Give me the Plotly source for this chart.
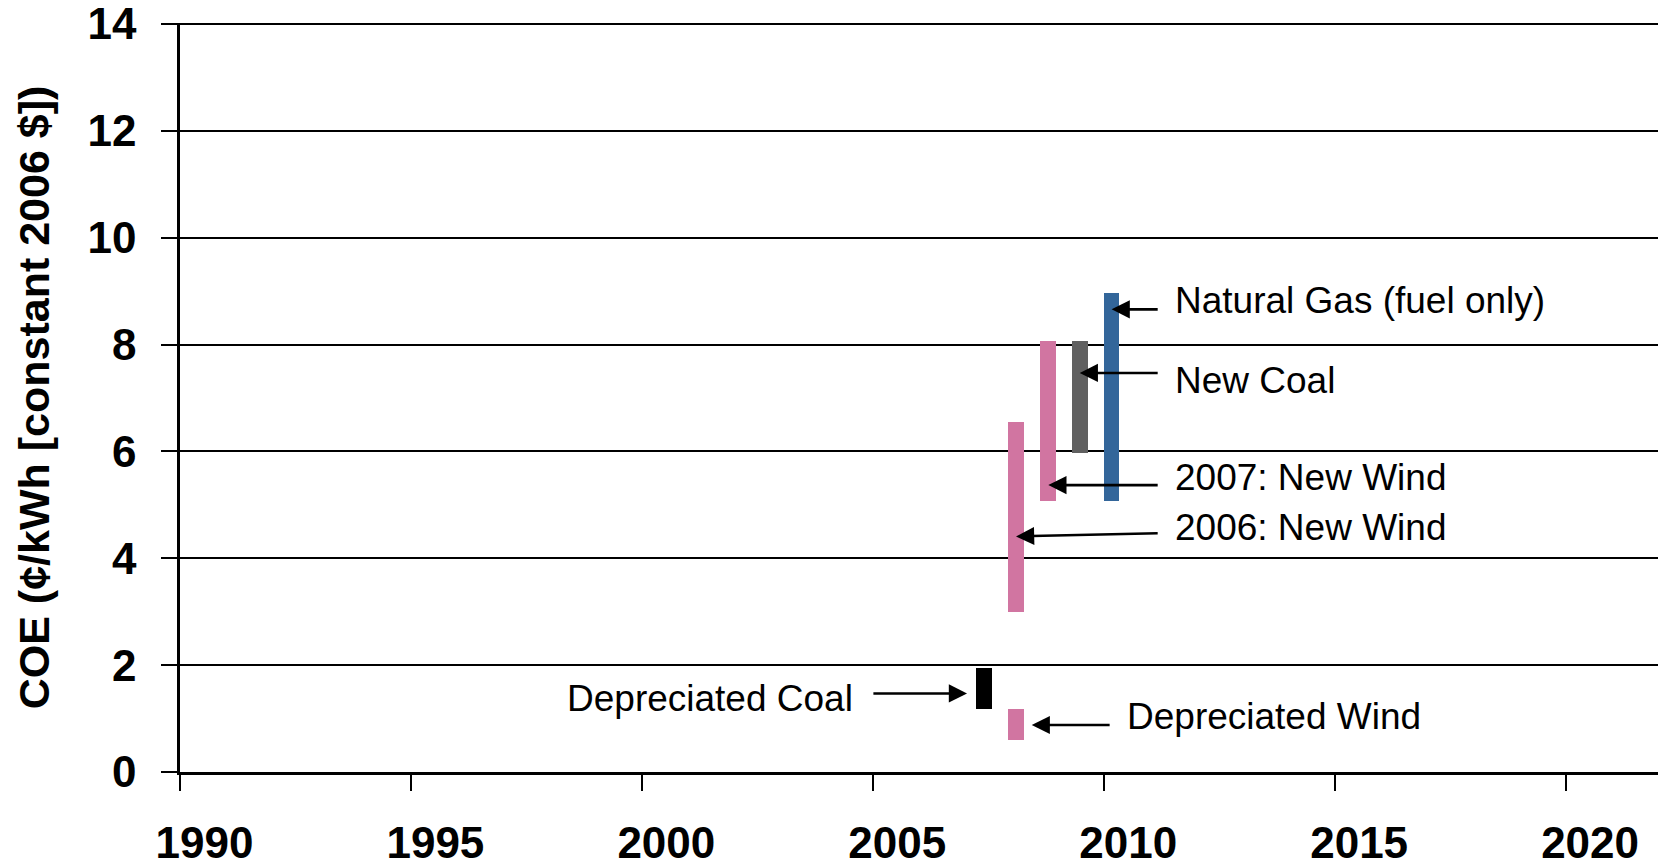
import plotly.graph_objects as go

# ---- data ----
categories = ["Depreciated Coal", "Depreciated Wind", "2006: New Wind",
              "2007: New Wind", "New Coal", "Natural Gas (fuel only)"]
years = [2007.4, 2008.1, 2008.1, 2008.8, 2009.48, 2010.17]
coe_low = [1.18, 0.6, 3.0, 5.07, 5.97, 5.07]
coe_high = [1.94, 1.18, 6.56, 8.06, 8.06, 8.96]
bar_colors = ["#000000", "#D175A1", "#D175A1", "#D175A1", "#606060", "#33669A"]

x_ticks = [1990, 1995, 2000, 2005, 2010, 2015, 2020]
y_ticks = [0, 2, 4, 6, 8, 10, 12, 14]

FONT = "Liberation Sans, Arial, sans-serif"
PAD = "\u00a0" * 4  # labels sit slightly right of their tick marks

fig = go.Figure()
fig.add_trace(go.Bar(
    x=years,
    y=[h - l for h, l in zip(coe_high, coe_low)],
    base=coe_low,
    width=0.34,
    marker=dict(color=bar_colors, line=dict(width=0)),
    text=categories,
    textposition="none",
    hoverinfo="text",
    showlegend=False,
))

# annotation layout: (label, arrow tip x, tip y, tail x, tail y, text x, text y, anchor)
notes = [
    ("Natural Gas (fuel only)", 2010.17, 8.66, 2011.2, 8.66, 2011.5, 8.83, "left"),
    ("New Coal", 2009.48, 7.47, 2011.2, 7.47, 2011.5, 7.33, "left"),
    ("2007: New Wind", 2008.8, 5.37, 2011.2, 5.37, 2011.5, 5.52, "left"),
    ("2006: New Wind", 2008.1, 4.41, 2011.2, 4.47, 2011.5, 4.57, "left"),
    ("Depreciated Coal", 2007.04, 1.47, 2004.98, 1.47, 2004.62, 1.38, "right"),
    ("Depreciated Wind", 2008.44, 0.88, 2010.16, 0.88, 2010.45, 1.03, "left"),
]
for label, tx, ty, ax, ay, lx, ly, anchor in notes:
    fig.add_annotation(
        x=tx, y=ty, ax=ax, ay=ay, xref="x", yref="y", axref="x", ayref="y",
        text="", showarrow=True, arrowhead=2, arrowsize=1.4, arrowwidth=2.6,
        arrowcolor="#000000", standoff=0,
    )
    fig.add_annotation(
        x=lx, y=ly, xref="x", yref="y", text=label, showarrow=False,
        xanchor=anchor, yanchor="middle",
        font=dict(family=FONT, size=37, color="#000000"),
    )

fig.update_layout(
    width=1658, height=862,
    margin=dict(l=180, r=0, t=23, b=90),
    paper_bgcolor="white", plot_bgcolor="white",
    bargap=0,
    font=dict(family=FONT, color="#000000"),
)
fig.update_xaxes(
    range=[1990, 2022], tickmode="array", tickvals=x_ticks,
    ticktext=[PAD + str(v) for v in x_ticks],
    showgrid=False, zeroline=False,
    showline=True, linecolor="#000000", linewidth=3,
    ticks="outside", ticklen=16, tickwidth=2, tickcolor="#000000",
    tickfont=dict(family=FONT, size=44, color="#000000", weight="bold"),
    ticklabelstandoff=14, ticklabeloverflow="allow",
    automargin=False,
)
fig.update_yaxes(
    range=[0, 14.02], tickmode="array", tickvals=y_ticks,
    ticktext=[str(v) for v in y_ticks],
    showgrid=True, gridcolor="#000000", gridwidth=2,
    zeroline=False,
    showline=True, linecolor="#000000", linewidth=2.5,
    ticks="outside", ticklen=16, tickwidth=2, tickcolor="#000000",
    tickfont=dict(family=FONT, size=44, color="#000000", weight="bold"),
    ticklabelstandoff=16, ticklabeloverflow="allow",
    title=dict(text="COE (¢/kWh [constant 2006 $])", standoff=25,
               font=dict(family=FONT, size=43, color="#000000", weight="bold")),
    automargin=False,
)

fig.write_html(
    "out.html",
    config={"displayModeBar": False},
    post_script="document.body.style.margin='0';document.body.style.overflow='hidden';",
)
